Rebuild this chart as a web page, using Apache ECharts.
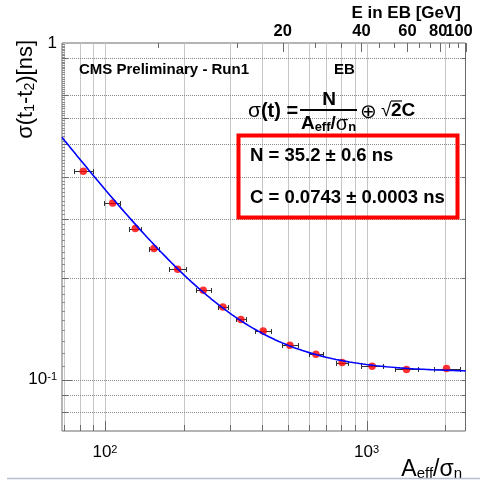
<!DOCTYPE html>
<html>
<head>
<meta charset="utf-8">
<title>Timing resolution vs normalised amplitude</title>
<script src="https://cdn.jsdelivr.net/npm/echarts@6/dist/echarts.min.js"></script>
<style>
  html, body { margin: 0; padding: 0; background: #fff; }
  #chart { width: 480px; height: 484px; }
</style>
</head>
<body>
<div id="chart"></div>
<script>
// ECAL barrel: time-difference resolution vs effective amplitude over noise
const ampOverNoise = [82.6, 107, 130.6, 153.9, 189.6, 237.5, 282.4, 330.9, 402.6, 509.3, 640.3, 806.9, 1050.5, 1422, 2022];
const ampLow  = [76.1, 99.4, 123.9, 147.3, 176.2, 222.7, 269.8, 316.6, 374.2, 474.7, 602.1, 765.4, 953.6, 1282.8, 1803.4];
const ampHigh = [89.6, 114.1, 137.7, 160.8, 204.0, 253.3, 295.6, 345.8, 433.1, 546.4, 681.0, 850.6, 1157.2, 1576.3, 2267.1];
const sigmaT  = [0.4157, 0.3346, 0.2809, 0.2450, 0.2127, 0.1842, 0.1643, 0.1508, 0.1394, 0.1264, 0.1189, 0.1123, 0.1095, 0.1071, 0.1078];

// fit parameters: sigma(t) = N/(A/sigma_n) (+) sqrt(2) C
const fitN = 35.2, fitNErr = 0.6;
const fitC = 0.0743, fitCErr = 0.0003;

// axis ranges
const X_MIN = 68.5, X_MAX = 2390;
const Y_MIN = 0.0703, Y_MAX = 1;
const E_MAX = 100;                      // GeV at the right edge
const E_MIN = E_MAX * X_MIN / X_MAX;

// grid / tick positions
const xGrid = [70, 80, 90, 100, 200, 300, 400, 500, 600, 700, 800, 900, 1000, 2000];
const yGrid = [0.08, 0.09, 0.1, 0.2, 0.3, 0.4, 0.5, 0.6, 0.7, 0.9];
const xDecades = [100, 1000];
const yDecades = [0.1, 1];
const energyTicks = [6.667, 13.333, 20, 26.667, 33.333, 40, 46.667, 53.333, 60, 66.667, 73.333, 80, 86.667, 93.333, 100];
const energyLabels = ['', '', '20', '', '', '40', '', '', '60', '', '', '80', '', '', '100'];

const FONT = '"Liberation Sans", Arial, Helvetica, sans-serif';
const FRAME = '#6a6a6a';
const GRIDC = '#8a8a8a';
const GRID_DASH = [1, 1];

// fine left-axis ruler between the labelled decades
const yRuler = [];
for (let k = 11; k <= 99; k++) {
  if (k % 10 !== 0) yRuler.push(k / 100);
}

// fitted resolution curve evaluated along the amplitude axis
function fitSigma(a) {
  return Math.sqrt(Math.pow(fitN / a, 2) + 2 * fitC * fitC);
}
const fitCurve = [];
for (let i = 0; i <= 240; i++) {
  const a = X_MIN * Math.pow(X_MAX / X_MIN, i / 240);
  fitCurve.push([a, fitSigma(a)]);
}

function isDecade(v) {
  const lg = Math.log10(v);
  return Math.abs(lg - Math.round(lg)) < 1e-6;
}
function crisp(v) { return Math.round(v) + 0.5; }

const supRich = {
  base: { fontFamily: FONT, fontSize: 17, lineHeight: 17, padding: [7, 0, 0, 0], verticalAlign: 'bottom', color: '#000' },
  sup:  { fontFamily: FONT, fontSize: 11, lineHeight: 11, verticalAlign: 'top', color: '#000' }
};

const chart = echarts.init(document.getElementById('chart'));

const option = {
  animation: false,
  backgroundColor: '#fff',
  grid: {
    left: 62, top: 43, right: 14.5, bottom: 53,
    show: true, borderColor: FRAME, borderWidth: 1, backgroundColor: 'transparent',
    containLabel: false, outerBoundsMode: 'none'
  },
  xAxis: [
    {
      type: 'log', logBase: 10, min: X_MIN, max: X_MAX, position: 'bottom',
      axisLine: { show: false }, axisTick: { show: false }, splitLine: { show: false },
      axisLabel: {
        margin: 13,
        formatter: function (v) {
          if (!isDecade(v)) return '';
          return '{base|10}{sup|' + Math.round(Math.log10(v)) + '}';
        },
        rich: supRich
      }
    },
    {
      type: 'log', logBase: 10, min: E_MIN, max: E_MAX, position: 'top',
      axisLine: { show: false }, axisTick: { show: false }, splitLine: { show: false },
      axisLabel: { show: false }
    }
  ],
  yAxis: [
    {
      type: 'log', logBase: 10, min: Y_MIN, max: Y_MAX,
      axisLine: { show: false }, axisTick: { show: false }, splitLine: { show: false },
      axisLabel: {
        margin: 5,
        formatter: function (v) {
          if (!isDecade(v)) return '';
          const p = Math.round(Math.log10(v));
          if (p === 0) return '{one|1}';
          return '{base|10}{sup|' + p + '}';
        },
        rich: Object.assign({
          one: { fontFamily: FONT, fontSize: 17, color: '#000' }
        }, supRich)
      }
    }
  ],
  series: [
    {
      // vertical grid lines and bottom ticks
      type: 'custom', name: 'xGrid', xAxisIndex: 0, yAxisIndex: 0, clip: false, silent: true, z: 1,
      data: xGrid.map(function (v) { return [v, Y_MIN]; }),
      renderItem: function (params, api) {
        const cs = params.coordSys;
        const v = api.value(0);
        const p = api.coord([v, Y_MIN]);
        const x = crisp(p[0]);
        const len = xDecades.indexOf(v) >= 0 ? 10 : 6;
        const top = Math.round(cs.y), bottom = Math.round(cs.y + cs.height);
        return {
          type: 'group', children: [
            { type: 'line', shape: { x1: x, y1: top, x2: x, y2: bottom },
              style: { stroke: '#c6c6c6', lineWidth: 1 } },
            { type: 'line', shape: { x1: x, y1: bottom, x2: x, y2: bottom - len },
              style: { stroke: FRAME, lineWidth: 1 } }
          ]
        };
      }
    },
    {
      // horizontal grid lines, left and right ticks
      type: 'custom', name: 'yGrid', xAxisIndex: 0, yAxisIndex: 0, clip: false, silent: true, z: 1,
      data: yGrid.map(function (v) { return [X_MIN, v]; }),
      renderItem: function (params, api) {
        const cs = params.coordSys;
        const v = api.value(1);
        const p = api.coord([X_MIN, v]);
        const y = crisp(p[1]);
        const len = yDecades.indexOf(v) >= 0 ? 10 : 6;
        const right = cs.x + cs.width;
        return {
          type: 'group', children: [
            { type: 'line', shape: { x1: cs.x, y1: y, x2: right, y2: y },
              style: { stroke: GRIDC, lineWidth: 1, lineDash: GRID_DASH } },
            { type: 'line', shape: { x1: cs.x, y1: y, x2: cs.x + len, y2: y },
              style: { stroke: FRAME, lineWidth: 1 } },
            { type: 'line', shape: { x1: right, y1: y, x2: right - 4, y2: y },
              style: { stroke: FRAME, lineWidth: 1 } }
          ]
        };
      }
    },
    {
      // fine ruler ticks on the left axis
      type: 'custom', name: 'yRuler', xAxisIndex: 0, yAxisIndex: 0, clip: false, silent: true, z: 1,
      data: yRuler.map(function (v) { return [X_MIN, v]; }),
      renderItem: function (params, api) {
        const cs = params.coordSys;
        const p = api.coord([X_MIN, api.value(1)]);
        const y = crisp(p[1]);
        return { type: 'line', shape: { x1: cs.x, y1: y, x2: cs.x + 3, y2: y },
                 style: { stroke: '#8a8a8a', lineWidth: 1 } };
      }
    },
    {
      // energy scale along the top edge
      type: 'custom', name: 'energy', xAxisIndex: 1, yAxisIndex: 0, clip: false, silent: true, z: 2,
      data: energyTicks.map(function (e, i) { return [e, Y_MAX, i]; }),
      renderItem: function (params, api) {
        const i = api.value(2);
        const p = api.coord([api.value(0), Y_MAX]);
        const x = crisp(p[0]);
        const label = energyLabels[i];
        const children = [
          { type: 'line', shape: { x1: x, y1: p[1], x2: x, y2: p[1] + (label ? 9 : 5) },
            style: { stroke: FRAME, lineWidth: 1 } }
        ];
        if (label) {
          const shift = label === '100' ? -6.5 : (label === '80' ? -2 : 0);
          children.push({
            type: 'text', x: p[0] + shift, y: p[1] - 12,
            style: { text: label, font: 'bold 16.5px ' + FONT, fill: '#000', align: 'center', verticalAlign: 'middle' }
          });
        }
        return { type: 'group', children: children };
      }
    },
    {
      // horizontal error bars
      type: 'custom', name: 'errors', xAxisIndex: 0, yAxisIndex: 0, clip: false, silent: true, z: 3,
      data: ampOverNoise.map(function (x, i) { return [x, sigmaT[i], ampLow[i], ampHigh[i]]; }),
      encode: { x: 0, y: 1 },
      renderItem: function (params, api) {
        const y = api.value(1);
        const a = api.coord([api.value(2), y]);
        const b = api.coord([api.value(3), y]);
        const yy = Math.round(a[1]) + 0.5;
        const xa = crisp(a[0]), xb = crisp(b[0]);
        const st = { stroke: '#303030', lineWidth: 1 };
        return {
          type: 'group', children: [
            { type: 'line', shape: { x1: xa, y1: yy, x2: xb, y2: yy }, style: st },
            { type: 'line', shape: { x1: xa, y1: yy - 2.5, x2: xa, y2: yy + 2.5 }, style: st },
            { type: 'line', shape: { x1: xb, y1: yy - 2.5, x2: xb, y2: yy + 2.5 }, style: st }
          ]
        };
      }
    },
    {
      type: 'scatter', name: 'data', xAxisIndex: 0, yAxisIndex: 0, z: 4, silent: true,
      symbol: 'circle', symbolSize: 7.5,
      itemStyle: { color: '#ff0000' },
      data: ampOverNoise.map(function (x, i) { return [x, sigmaT[i]]; })
    },
    {
      type: 'line', name: 'fit', xAxisIndex: 0, yAxisIndex: 0, z: 5, silent: true,
      showSymbol: false, symbol: 'none', smooth: false, clip: true,
      lineStyle: { color: '#0000ff', width: 1.6 },
      data: fitCurve
    }
  ],
  graphic: [
    { type: 'text', z: 10, x: 461, y: 13,
      style: { text: 'E in EB [GeV]', font: 'bold 17px ' + FONT, fill: '#000', align: 'right', verticalAlign: 'middle' } },
    { type: 'text', z: 10, x: 79, y: 70,
      style: { text: 'CMS Preliminary - Run1', font: 'bold 15px ' + FONT, fill: '#000', align: 'left', verticalAlign: 'middle' } },
    { type: 'text', z: 10, x: 334, y: 70,
      style: { text: 'EB', font: 'bold 15px ' + FONT, fill: '#000', align: 'left', verticalAlign: 'middle' } },

    // resolution formula
    { type: 'text', z: 10, x: 248, y: 111,
      style: { text: '{s|σ}{b|(t) =}', align: 'left', verticalAlign: 'middle', fill: '#000',
        rich: { s: { font: '21px ' + FONT }, b: { font: 'bold 20px ' + FONT } } } },
    { type: 'text', z: 10, x: 329, y: 100,
      style: { text: 'N', font: 'bold 19px ' + FONT, fill: '#000', align: 'center', verticalAlign: 'middle' } },
    { type: 'line', z: 10, shape: { x1: 300, y1: 110, x2: 357, y2: 110 }, style: { stroke: '#000', lineWidth: 1.8 } },
    { type: 'text', z: 10, x: 328.5, y: 124,
      style: { text: '{b|A}{bs|eff}{b|/}{s|σ}{bs|n}', align: 'center', verticalAlign: 'middle', fill: '#000',
        rich: {
          b:  { fontFamily: FONT, fontWeight: 'bold', fontSize: 19, lineHeight: 19, padding: [0, 0, 5, 0], verticalAlign: 'top' },
          s:  { fontFamily: FONT, fontSize: 20, lineHeight: 19, padding: [0, 0, 5, 0], verticalAlign: 'top' },
          bs: { fontFamily: FONT, fontWeight: 'bold', fontSize: 13, lineHeight: 13, verticalAlign: 'bottom' }
        } } },
    { type: 'text', z: 10, x: 368, y: 112,
      style: { text: '⊕', font: '20px ' + FONT, fill: '#000', align: 'center', verticalAlign: 'middle' } },
    { type: 'text', z: 10, x: 381, y: 111,
      style: { text: '√', font: '19px ' + FONT, fill: '#000', align: 'left', verticalAlign: 'middle' } },
    { type: 'line', z: 10, shape: { x1: 391, y1: 101, x2: 402, y2: 101 }, style: { stroke: '#000', lineWidth: 1.2 } },
    { type: 'text', z: 10, x: 391, y: 111,
      style: { text: '2C', font: 'bold 19px ' + FONT, fill: '#000', align: 'left', verticalAlign: 'middle' } },

    // fit result box
    { type: 'rect', z: 10, shape: { x: 238.5, y: 135.5, width: 219, height: 82 },
      style: { fill: 'none', stroke: '#ff0000', lineWidth: 4 } },
    { type: 'text', z: 10, x: 250, y: 156,
      style: { text: 'N = ' + fitN.toFixed(1) + ' ± ' + fitNErr.toFixed(1) + ' ns',
        font: 'bold 18.5px ' + FONT, fill: '#000', align: 'left', verticalAlign: 'middle' } },
    { type: 'text', z: 10, x: 250, y: 198,
      style: { text: 'C = ' + fitC.toFixed(4) + ' ± ' + fitCErr.toFixed(4) + ' ns',
        font: 'bold 18.5px ' + FONT, fill: '#000', align: 'left', verticalAlign: 'middle' } },

    // axis titles
    { type: 'text', z: 10, x: 26, y: 40, rotation: Math.PI / 2,
      style: { text: '{m|σ(t}{s|1}{m|-t}{s|2}{m|)[ns]}', align: 'right', verticalAlign: 'middle', fill: '#000',
        rich: {
          m: { fontFamily: FONT, fontSize: 22, lineHeight: 22, padding: [0, 0, 5, 0], verticalAlign: 'top' },
          s: { fontFamily: FONT, fontSize: 14, lineHeight: 14, verticalAlign: 'bottom' }
        } } },
    { type: 'text', z: 10, x: 462, y: 470,
      style: { text: '{m|A}{s|eff}{m|/σ}{s|n}', align: 'right', verticalAlign: 'middle', fill: '#000',
        rich: {
          m: { fontFamily: FONT, fontSize: 23, lineHeight: 23, padding: [0, 0, 5, 0], verticalAlign: 'top' },
          s: { fontFamily: FONT, fontSize: 15, lineHeight: 15, verticalAlign: 'bottom' }
        } } },

    { type: 'line', z: 10, shape: { x1: 7, y1: 478.5, x2: 480, y2: 478.5 }, style: { stroke: '#b4bfcc', lineWidth: 1.5 } }
  ]
};

chart.setOption(option);
</script>
</body>
</html>
